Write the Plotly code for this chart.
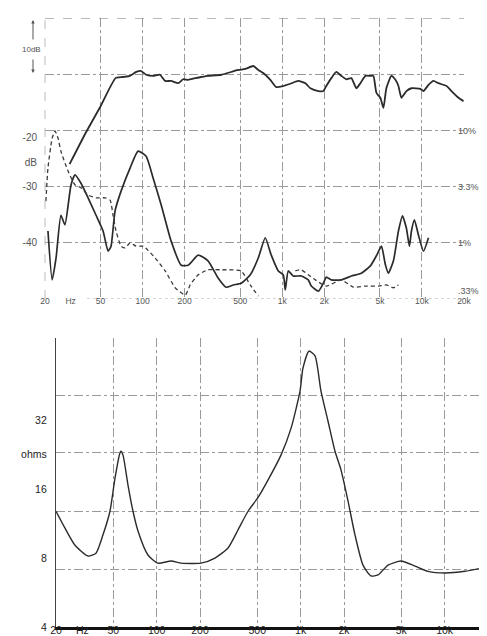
import math
import plotly.graph_objects as go

# ---------------- data ----------------
# Top panel: on-axis response (dB)
resp_freq = [30, 39, 50, 64, 72, 81, 90, 97, 106, 119, 133, 145, 160, 180, 195, 212, 238, 263, 294, 366,
             483, 543, 620, 673, 731, 821, 906, 1017, 1141, 1302, 1462, 1589, 1812, 1968, 2066, 2244, 2438,
             2648, 2877, 3125, 3390, 3624, 3936, 4275, 4490, 4720, 5040, 5300, 5560, 6040, 6460, 6786, 7130,
             7740, 8410, 9750, 10250, 11140, 12080, 13120, 15000, 16270, 18280, 19840]
resp_db = [-26.0, -20.5, -15.7, -10.7, -10.5, -10.3, -9.6, -9.4, -10.1, -10.3, -10.1, -11.2, -11.2, -11.6, -10.9,
           -11.0, -10.7, -10.5, -10.3, -10.1, -9.25, -9.07, -8.54, -9.25, -9.8, -11.0, -12.3, -12.1, -11.7, -11.2,
           -11.6, -12.5, -13.0, -13.0, -12.1, -10.7, -9.6, -10.3, -10.9, -10.7, -12.5, -11.6, -10.3, -10.3, -10.3,
           -13.3, -14.2, -16.0, -12.5, -10.3, -11.0, -12.1, -14.2, -13.0, -12.5, -12.6, -13.0, -11.9, -11.2, -11.6,
           -12.1, -13.0, -14.2, -14.8]

# Top panel: distortion, solid curve (dB)
dist_solid_freq = [21.0, 22.5, 24.0, 26.0, 27.8, 30.7, 32.8, 36.2, 40.7, 46.4, 52.1, 56.6, 59.4, 63.5, 70.1, 81.3,
                   92.8, 106, 119, 136, 160, 189, 212, 250, 294, 348, 396, 446, 508, 590, 673, 755, 834, 936,
                   1017, 1050, 1104, 1199, 1368, 1536, 1614, 1812, 1968, 2066, 2244, 2648, 3125, 3683, 4275, 4720,
                   5130, 5472, 5752, 6250, 6786, 7250, 7740, 8130, 8410, 8830, 9434, 10250, 11140]
dist_solid_db = [-37.9, -46.6, -42.7, -35.1, -36.8, -29.7, -27.9, -29.4, -32.0, -35.1, -37.9, -41.5, -40.6, -34.3,
                 -30.8, -26.7, -23.7, -24.6, -28.5, -33.3, -39.7, -44.0, -44.0, -42.2, -43.2, -46.3, -47.9, -47.5,
                 -47.2, -45.7, -42.7, -39.1, -42.2, -45.0, -45.7, -48.4, -45.0, -45.9, -45.9, -46.6, -47.7, -48.6,
                 -47.2, -46.1, -46.6, -46.6, -45.9, -45.4, -44.1, -42.3, -40.6, -43.9, -45.4, -43.2, -37.9, -35.2,
                 -37.4, -40.6, -37.9, -35.9, -38.6, -41.5, -39.1]

# Top panel: distortion, dashed curve (dB); None = curve below the chart
dist_dash_freq = [20.3, 21.0, 22.5, 23.6, 24.8, 26.0, 29.2, 32.8, 36.2, 40.7, 46.4, 53.9, 58.5, 61.4, 64.5, 70.1,
                  74.9, 81.3, 89.8, 101, 109, 123, 145, 171, 202, 219, 250, 294, 366, 431, 508, 590, 673, 900,
                  1239, 1368, 1536, 1724, 2066, 2648, 3230, 3936, 4880, 5560, 6250, 6786]
dist_dash_db = [-32.6, -26.7, -21.4, -20.1, -21.4, -23.7, -27.2, -29.7, -30.2, -31.5, -32.0, -32.0, -32.4, -35.1,
                -37.9, -40.6, -40.9, -40.0, -40.6, -40.6, -41.3, -42.7, -45.0, -48.0, -49.3, -47.5, -45.7, -44.8,
                -44.8, -44.8, -45.0, -47.5, -49.5, None, -45.0, -44.8, -45.7, -46.6, -47.7, -46.6, -47.9, -47.7,
                -47.7, -47.5, -48.0, -47.5]

# Bottom panel: impedance (ohms)
imp_freq = [20, 23.1, 27.1, 33.4, 37.9, 42.4, 47.4, 51.4, 55.6, 56.5, 58.4, 63.2, 68.5, 74.2, 87, 102, 126, 148,
            203, 254, 313, 367, 431, 506, 593, 730, 858, 990, 1038, 1143, 1258, 1384, 1548, 1732, 1906, 2132,
            2383, 2710, 3080, 3445, 4046, 4980, 6222, 7660, 10050, 13840, 19370]
imp_ohm = [12.8, 10.8, 9.1, 8.16, 8.4, 10.1, 12.8, 17.9, 23.0, 23.4, 22.5, 16.7, 12.8, 10.5, 8.25, 7.6, 7.76, 7.6,
           7.6, 8.0, 8.85, 10.6, 12.8, 14.7, 17.5, 22.5, 29.5, 42.8, 54, 64, 61, 42.8, 31.7, 23.4, 19.4, 14.2,
           10.1, 7.45, 6.68, 6.75, 7.45, 7.76, 7.38, 7.0, 6.88, 7.0, 7.3]

# ticks / labels
grid_freqs = [50, 100, 200, 500, 1000, 2000, 5000, 10000]
freq_label_vals = [20, 30.5, 50, 100, 200, 500, 1000, 2000, 5000, 10000, 20000]
freq_label_text = ["20", "Hz", "50", "100", "200", "500", "1k", "2k", "5k", "10k", "20k"]
db_left_vals = [-21.3, -25.7, -30, -40]
db_left_text = ["-20", "dB", "-30", "-40"]
db_grid_vals = [0, -10, -20, -30, -40]
db_right_vals = [-20, -30, -40, -48.6]
db_right_text = ["10%", "3.3%", "1%", ".33%"]
ohm_label_vals = [4, 8, 16, 22.7, 32]
ohm_label_text = ["4", "8", "16", "ohms", "32"]
ohm_grid_vals = [7.1, 12.8, 23.0, 41.1]

# ---------------- figure ----------------
W, H = 487, 636
FONT = "Liberation Sans, Arial, sans-serif"
CURVE = "#2b2b2b"
GRID = "#9a9a9a"

def px_x(p):
    return p / W

def px_y(p):
    return 1 - p / H

top_dom_x = [px_x(37), px_x(456)]
top_dom_y = [px_y(291), px_y(10)]
bot_dom_x = [px_x(48), px_x(480)]
bot_dom_y = [px_y(619), px_y(330)]
frange = [math.log10(20), math.log10(20000)]

fig = go.Figure()
fig.add_trace(go.Scatter(x=resp_freq, y=resp_db, mode="lines", xaxis="x", yaxis="y",
                         line=dict(color=CURVE, width=1.8, shape="spline", smoothing=0.5),
                         showlegend=False, hoverinfo="skip"))
fig.add_trace(go.Scatter(x=dist_solid_freq, y=dist_solid_db, mode="lines", xaxis="x", yaxis="y",
                         line=dict(color=CURVE, width=1.7, shape="spline", smoothing=0.5),
                         showlegend=False, hoverinfo="skip"))
fig.add_trace(go.Scatter(x=dist_dash_freq, y=dist_dash_db, mode="lines", xaxis="x", yaxis="y",
                         line=dict(color="#3a3a3a", width=1.3, dash="4px,3px", shape="spline", smoothing=0.5),
                         connectgaps=False, showlegend=False, hoverinfo="skip"))
fig.add_trace(go.Scatter(x=imp_freq, y=imp_ohm, mode="lines", xaxis="x2", yaxis="y2",
                         line=dict(color=CURVE, width=1.4, shape="spline", smoothing=0.6),
                         showlegend=False, hoverinfo="skip"))
# invisible helpers so the overlay axes are drawn
for xa, ya in [("x3", "y"), ("x", "y3"), ("x", "y5"), ("x4", "y2"), ("x2", "y4")]:
    fig.add_trace(go.Scatter(x=[None], y=[None], xaxis=xa, yaxis=ya, mode="lines",
                             showlegend=False, hoverinfo="skip"))

common_grid = dict(showgrid=True, gridcolor=GRID, gridwidth=1, griddash="dashdot")

fig.update_layout(
    width=W, height=H, autosize=False, template="none",
    margin=dict(l=0, r=0, t=0, b=0),
    paper_bgcolor="white", plot_bgcolor="rgba(0,0,0,0)",
    font=dict(family=FONT, color="#333"),
    # ---- top panel ----
    xaxis=dict(type="log", range=frange, domain=top_dom_x, anchor="y", tickmode="array",
               tickvals=grid_freqs, showticklabels=False, ticks="", ticklen=0, zeroline=False,
               showline=False, automargin=False, **common_grid),
    xaxis3=dict(type="log", range=frange, overlaying="x", anchor="y", side="bottom", tickmode="array",
                tickvals=freq_label_vals, ticktext=freq_label_text, showgrid=False, ticks="", ticklen=0,
                zeroline=False, showline=False, automargin=False,
                tickfont=dict(size=8.5, color="#555"), ticklabelstandoff=-5),
    yaxis=dict(range=[-50, 0], domain=top_dom_y, anchor="x", tickmode="array",
               tickvals=db_left_vals, ticktext=db_left_text, showgrid=False, ticks="", ticklen=0,
               zeroline=False, showline=False, automargin=False,
               tickfont=dict(size=10, color="#555"), ticklabelstandoff=7),
    yaxis3=dict(range=[-50, 0], overlaying="y", anchor="x", side="right", tickmode="array",
                tickvals=db_right_vals, ticktext=db_right_text, ticks="", ticklen=0, zeroline=False,
                showline=False, showgrid=False, automargin=False, tickfont=dict(size=9, color="#555"),
                ticklabelstandoff=-7),
    yaxis5=dict(range=[-50, 0], overlaying="y", anchor="x", side="right", tickmode="array",
                tickvals=db_grid_vals, showticklabels=False, ticks="", ticklen=0, zeroline=False,
                showline=False, automargin=False, **common_grid),
    # ---- bottom panel ----
    xaxis2=dict(type="log", range=frange, domain=bot_dom_x, anchor="y2", tickmode="array",
                tickvals=grid_freqs, showticklabels=False, ticks="", ticklen=0, zeroline=False,
                showline=True, linecolor="#111", linewidth=3, automargin=False, **common_grid),
    xaxis4=dict(type="log", range=frange, overlaying="x2", anchor="y2", side="bottom", tickmode="array",
                tickvals=freq_label_vals, ticktext=freq_label_text, showgrid=False, ticks="", ticklen=0,
                zeroline=False, showline=False, automargin=False,
                tickfont=dict(size=10.5, color="#222"), ticklabelstandoff=-5),
    yaxis2=dict(type="log", range=[math.log10(4), math.log10(73)], domain=bot_dom_y, anchor="x2",
                tickmode="array", tickvals=ohm_label_vals, ticktext=ohm_label_text, showgrid=False,
                ticks="", ticklen=0, zeroline=False, showline=True, linecolor="#444", linewidth=1.2,
                automargin=False, tickfont=dict(size=10.5, color="#222"), ticklabelstandoff=6),
    yaxis4=dict(type="log", range=[math.log10(4), math.log10(73)], overlaying="y2", anchor="x2",
                tickmode="array", tickvals=ohm_grid_vals, showticklabels=False, ticks="", ticklen=0,
                zeroline=False, showline=False, automargin=False, **common_grid),
)

# frame lines of the top panel (chart-paper borders)
fig.add_shape(type="line", xref="x domain", yref="y", x0=0, x1=1, y0=0, y1=0,
              line=dict(color="#777", width=1.2, dash="dash"))
fig.add_shape(type="line", xref="x domain", yref="y", x0=0.1, x1=1, y0=-50, y1=-50,
              line=dict(color="#aaa", width=1, dash="dot"))
fig.add_shape(type="line", xref="x domain", yref="y domain", x0=0, x1=0, y0=0, y1=1,
              line=dict(color="#bbb", width=1, dash="dash"))

# "10dB" scale marker
fig.add_annotation(x=px_x(23), y=px_y(41), xref="paper", yref="paper", text="10dB", showarrow=False,
                   font=dict(size=8, color="#555"), xanchor="center", yanchor="middle")
fig.add_annotation(x=px_x(25), y=px_y(12), xref="paper", yref="paper", text="", showarrow=True,
                   ax=0, ay=21, arrowhead=2, arrowsize=0.7, arrowwidth=1, arrowcolor="#555")
fig.add_annotation(x=px_x(25), y=px_y(65), xref="paper", yref="paper", text="", showarrow=True,
                   ax=0, ay=-15, arrowhead=2, arrowsize=0.7, arrowwidth=1, arrowcolor="#555")

fig.write_html("out.html")
